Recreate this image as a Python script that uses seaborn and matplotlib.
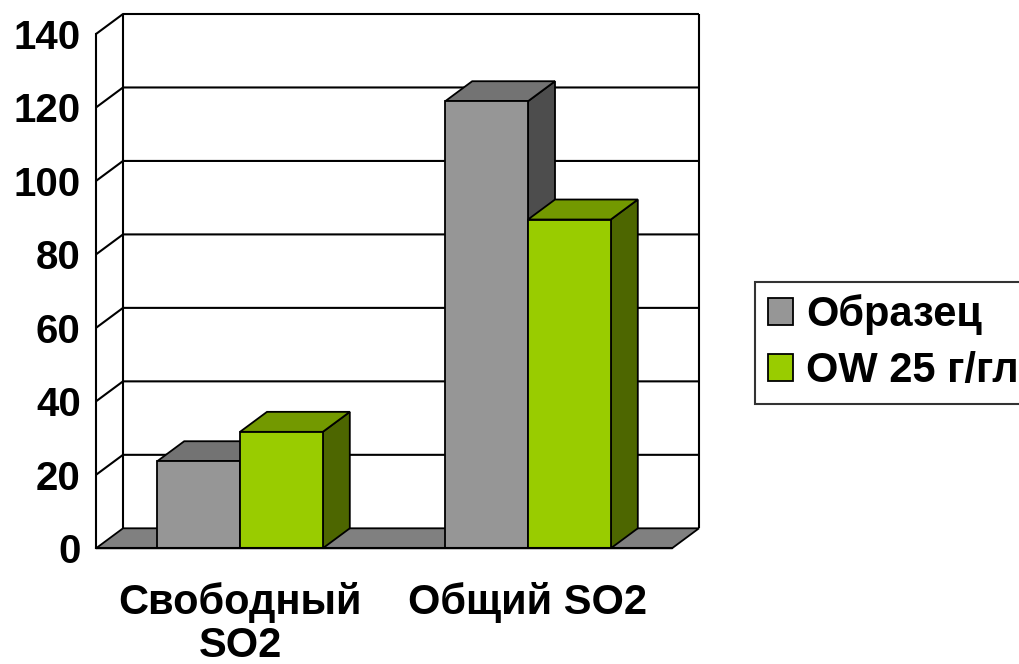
import numpy as np
import pandas as pd
import matplotlib
matplotlib.use("Agg")
import matplotlib.pyplot as plt
from matplotlib.patches import Polygon, Patch, Rectangle
import seaborn as sns

# Data
categories = ["Свободный\nSO2", "Общий SO2"]
series = ["Образец", "OW 25 г/гл"]
sample_values = [23.7, 121.7]
ow_values = [31.7, 89.5]
y_ticks = [0, 20, 40, 60, 80, 100, 120, 140]

# Face colours: front, top, side
front_colors = ["#969696", "#99CC00"]
top_colors = ["#737373", "#739900"]
side_colors = ["#4D4D4D", "#4D6600"]

df = pd.DataFrame({
    "cat": categories * 2,
    "series": [series[0]] * 2 + [series[1]] * 2,
    "val": sample_values + ow_values,
})

sns.set_theme(style="white")
plt.rcParams["font.family"] = ["Liberation Sans", "DejaVu Sans"]
plt.rcParams["font.weight"] = "bold"
plt.rcParams["text.color"] = "black"
plt.rcParams["xtick.color"] = "black"
plt.rcParams["ytick.color"] = "black"

W, H = 1020, 664
fig = plt.figure(figsize=(W / 100, H / 100), dpi=100)
left_px, right_px, top_px, bottom_px = 96, 672, 34, 548.3
ax = fig.add_axes([left_px / W, 1 - bottom_px / H,
                   (right_px - left_px) / W, (bottom_px - top_px) / H])
ax.set_facecolor("none")

sns.barplot(data=df, x="cat", y="val", hue="series", palette=front_colors,
            width=0.575, saturation=1, edgecolor="black", linewidth=1.3,
            legend=False, ax=ax)

bars = sorted([p for p in ax.patches if isinstance(p, Rectangle)],
              key=lambda p: p.get_x())

ax.set_xlim(-0.5, 1.5)
ax.set_ylim(0, 140)

# depth offset of the 3D box, in pixels -> data units
DEPTH_PX = (27, 20)
p0 = ax.transData.transform((0, 0))
dx, dy = ax.transData.inverted().transform(p0 + np.array(DEPTH_PX))
x_lo, x_hi = -0.5, 1.5

line_kw = dict(color="black", lw=1.5, clip_on=False, zorder=1, solid_capstyle="butt")

# back wall gridlines with their depth connectors
for v in y_ticks[1:]:
    ax.plot([x_lo, x_lo + dx, x_hi + dx], [v, v + dy, v + dy], **line_kw)
# back wall outline
ax.plot([x_lo + dx, x_lo + dx], [dy, 140 + dy], **line_kw)
ax.plot([x_hi + dx, x_hi + dx], [dy, 140 + dy], **line_kw)

# floor slab
floor = Polygon([(x_lo, 0), (x_lo + dx, dy), (x_hi + dx, dy), (x_hi, 0)],
                closed=True, facecolor="#808080", edgecolor="black", lw=1.3,
                clip_on=False, zorder=2)
ax.add_patch(floor)

# extrude every bar into a box
gray_rgb = np.array(matplotlib.colors.to_rgb(front_colors[0]))
for i, bar in enumerate(bars):
    x0 = bar.get_x()
    x1 = x0 + bar.get_width()
    h = bar.get_height()
    k = 0 if np.allclose(bar.get_facecolor()[:3], gray_rgb, atol=0.01) else 1
    z = 3 + 3 * i
    side = Polygon([(x1, 0), (x1 + dx, dy), (x1 + dx, h + dy), (x1, h)],
                   closed=True, facecolor=side_colors[k], edgecolor="black",
                   lw=1.3, clip_on=False, zorder=z)
    top = Polygon([(x0, h), (x1, h), (x1 + dx, h + dy), (x0 + dx, h + dy)],
                  closed=True, facecolor=top_colors[k], edgecolor="black",
                  lw=1.3, clip_on=False, zorder=z + 1)
    ax.add_patch(side)
    ax.add_patch(top)
    bar.set_zorder(z + 2)
    bar.set_clip_on(False)

# axes
for s in ["top", "right"]:
    ax.spines[s].set_visible(False)
for s in ["left", "bottom"]:
    ax.spines[s].set_color("black")
    ax.spines[s].set_linewidth(1.5)
    ax.spines[s].set_zorder(30)

ax.set_yticks(y_ticks)
ax.set_yticklabels([str(v) for v in y_ticks], fontsize=29, fontweight="bold")
ax.tick_params(axis="y", direction="out", length=8, width=1.5, color="black", pad=3)
ax.set_xticks([0, 1])
ax.set_xticklabels(categories, fontsize=30, fontweight="bold", linespacing=1.1)
ax.set_xticks([-0.5, 0.5, 1.5], minor=True)
ax.tick_params(axis="x", which="major", length=0, pad=24)
ax.tick_params(axis="x", which="minor", direction="out", length=8, width=1.5, color="black")
ax.set_xlabel("")
ax.set_ylabel("")
ax.grid(False)

handles = [Patch(facecolor=front_colors[0], edgecolor="black", lw=1.3),
           Patch(facecolor=front_colors[1], edgecolor="black", lw=1.3)]
leg = fig.legend(handles, series, loc="upper left",
                 bbox_to_anchor=(755 / W, 1 - 282 / H), borderaxespad=0,
                 prop={"size": 30, "weight": "bold"}, frameon=True,
                 fancybox=False, shadow=False, handlelength=0.62,
                 handleheight=0.62, handletextpad=0.3, labelspacing=0.38,
                 borderpad=0.3)
leg.get_frame().set_edgecolor("black")
leg.get_frame().set_linewidth(1.5)

fig.savefig("out.png", dpi=100)
